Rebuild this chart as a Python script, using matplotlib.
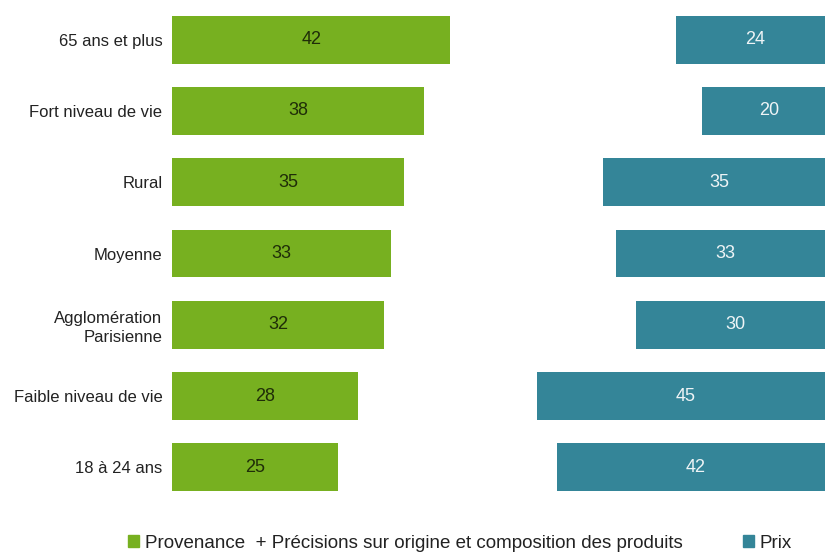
import matplotlib.pyplot as plt
from matplotlib.patches import Patch

plt.rcParams['font.family'] = ['Liberation Sans', 'DejaVu Sans']

# data, top to bottom
categories = ["65 ans et plus", "Fort niveau de vie", "Rural", "Moyenne",
              "Agglomération\nParisienne", "Faible niveau de vie", "18 à 24 ans"]
provenance = [42, 38, 35, 33, 32, 28, 25]
prix = [24, 20, 35, 33, 30, 45, 42]
total = 100

green = "#77b020"
blue = "#348598"

fig = plt.figure(figsize=(8.25, 5.52), dpi=100)
# axes runs slightly past the right edge, like the original crop
ax = fig.add_axes([172/825, 1 - 503/552, 663/825, (503 - 4)/552])

ys = list(range(len(categories)))
bh = 0.67
ax.barh(ys, provenance, height=bh, color=green)
ax.barh(ys, prix, left=[total - p for p in prix], height=bh, color=blue)

for y, v in zip(ys, provenance):
    ax.text(v / 2, y, str(v), ha="center", va="center", fontsize=13, color="#1f2d08")
for y, v in zip(ys, prix):
    ax.text(total - v / 2, y, str(v), ha="center", va="center", fontsize=13, color="#eef4f6")

ax.set_xlim(0, total)
ax.set_ylim(len(categories) - 0.5, -0.5)
ax.set_yticks(ys)
ax.set_yticklabels(categories, fontsize=12, color="#222222", linespacing=1.35)
ax.tick_params(axis="y", length=0, pad=7)
ax.set_xticks([])
for s in ax.spines.values():
    s.set_visible(False)

handles = [Patch(color=green, label="Provenance  + Précisions sur origine et composition des produits"),
           Patch(color=blue, label="Prix")]
fig.legend(handles=handles, loc="center", bbox_to_anchor=(460/825, 1 - 543/552), ncol=2,
           frameon=False, fontsize=13.5, handlelength=0.6, handleheight=0.6,
           handletextpad=0.3, columnspacing=3.2, labelcolor="#222222")

fig.savefig("out.png", dpi=100)
